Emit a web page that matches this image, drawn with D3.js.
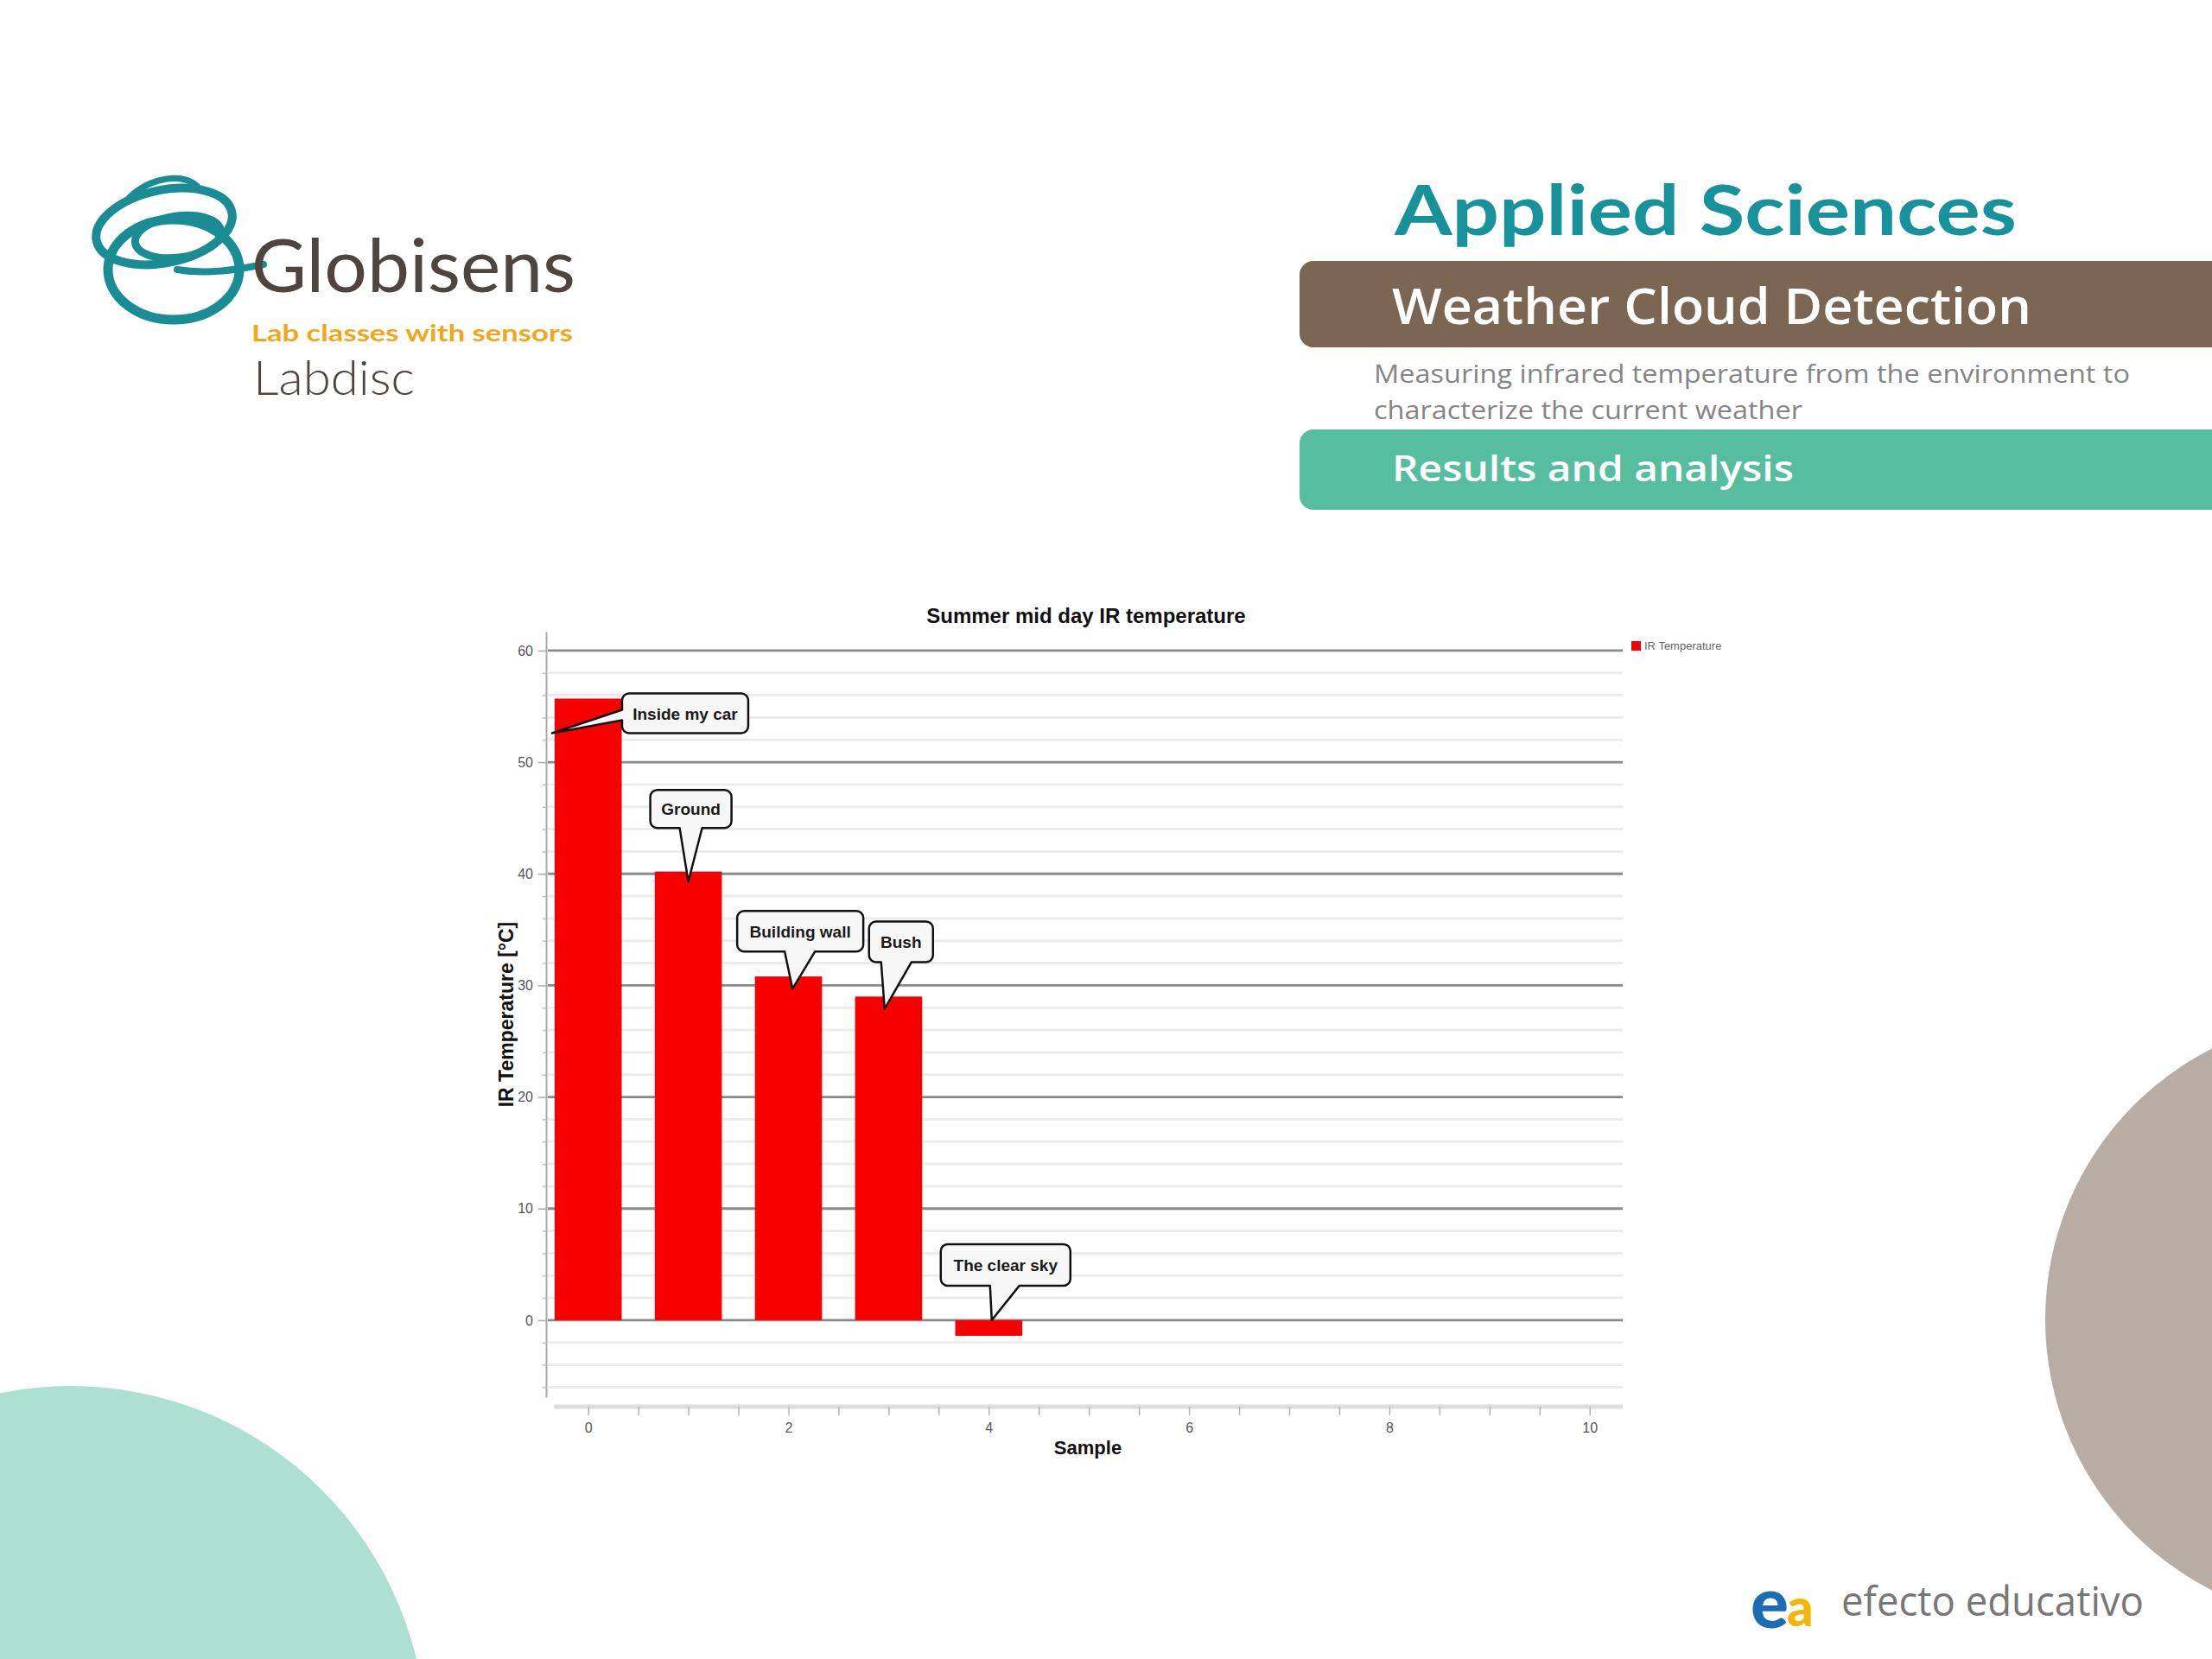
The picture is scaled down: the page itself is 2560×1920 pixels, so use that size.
<!DOCTYPE html>
<html>
<head>
<meta charset="utf-8">
<script src="https://cdn.jsdelivr.net/npm/d3@7/dist/d3.min.js"></script>
<style>
  html, body { margin: 0; padding: 0; background: #ffffff; }
  svg { display: block; }
</style>
</head>
<body>
<div id="chart"></div>
<script>
// ---------------- DATA ----------------
const categories = ["Inside my car", "Ground", "Building wall", "Bush", "The clear sky"];
const sampleIndex = [0, 1, 2, 3, 4];
const irTemperature = [55.7, 40.2, 30.8, 29.0, -1.4];
// where each callout's pointer touches (data units)
const calloutTipSample = [-0.36, 1.0, 2.04, 2.96, 4.03];
const calloutTipTemp = [52.6, 39.3, 29.7, 27.9, 0.0];
const yMajorTicks = [0, 10, 20, 30, 40, 50, 60];
const yMinorTicks = [-6, -4, -2, 2, 4, 6, 8, 12, 14, 16, 18, 22, 24, 26, 28, 32, 34, 36, 38, 42, 44, 46, 48, 52, 54, 56, 58];
const xTickLabels = [0, 2, 4, 6, 8, 10];
const xMinorTicks = [0, 0.5, 1, 1.5, 2, 2.5, 3, 3.5, 4, 4.5, 5, 5.5, 6, 6.5, 7, 7.5, 8, 8.5, 9, 9.5, 10];
const chartTitle = "Summer mid day IR temperature";
const yTitle = "IR Temperature [°C]";
const xTitle = "Sample";
const seriesName = "IR Temperature";

// ---------------- LAYOUT ----------------
const W = 2560, H = 1920;
const svg = d3.select("#chart").append("svg").attr("width", W).attr("height", H);

// background decorations
svg.append("circle").attr("cx", 82).attr("cy", 2015).attr("r", 411).attr("fill", "#aee0d1");
svg.append("circle").attr("cx", 2718).attr("cy", 1527).attr("r", 351).attr("fill", "#b8ada5");

// ---- Globisens logo ----
const logo = svg.append("g").attr("fill", "none").attr("stroke", "#1a8c94").attr("stroke-linecap", "round");
logo.append("ellipse").attr("cx", 201).attr("cy", 312).attr("rx", 76).attr("ry", 58).attr("stroke-width", 11);
logo.append("ellipse").attr("cx", 190).attr("cy", 262).attr("rx", 80).attr("ry", 42)
  .attr("transform", "rotate(-12 190 262)").attr("stroke-width", 10);
logo.append("ellipse").attr("cx", 206).attr("cy", 274).attr("rx", 50).attr("ry", 24)
  .attr("transform", "rotate(-8 206 274)").attr("stroke-width", 9);
logo.append("path").attr("d", "M150,228 C175,205 210,200 228,215").attr("stroke-width", 7);
logo.append("path").attr("d", "M205,312 C240,318 275,312 305,306").attr("stroke-width", 8);

svg.append("text").attr("x", 291).attr("y", 338).text("Globisens")
  .attr("font-family", "Lato, 'Open Sans', sans-serif").attr("font-size", 86)
  .attr("fill", "#4e4540").attr("textLength", 375).attr("lengthAdjust", "spacingAndGlyphs");
svg.append("text").attr("x", 291).attr("y", 395).text("Lab classes with sensors")
  .attr("font-family", "Lato, 'Open Sans', sans-serif").attr("font-size", 27).attr("font-weight", 700)
  .attr("fill", "#f0a81a").attr("textLength", 372).attr("lengthAdjust", "spacingAndGlyphs");
svg.append("text").attr("x", 293).attr("y", 457).text("Labdisc")
  .attr("font-family", "Lato, 'Open Sans', sans-serif").attr("font-size", 56).attr("font-weight", 300)
  .attr("fill", "#4e4540").attr("textLength", 187).attr("lengthAdjust", "spacingAndGlyphs");

// ---- header right ----
svg.append("text").attr("x", 1614).attr("y", 272).text("Applied Sciences")
  .attr("font-family", "Lato, 'Open Sans', sans-serif").attr("font-size", 80).attr("font-weight", 700)
  .attr("fill", "#17919a").attr("textLength", 720).attr("lengthAdjust", "spacingAndGlyphs");
svg.append("rect").attr("x", 1504).attr("y", 302).attr("width", 1100).attr("height", 100).attr("rx", 16)
  .attr("fill", "#7a6652");
svg.append("text").attr("x", 1611).attr("y", 375).text("Weather Cloud Detection")
  .attr("font-family", "'Open Sans', Lato, sans-serif").attr("font-size", 58).attr("font-weight", 600)
  .attr("fill", "#ffffff").attr("textLength", 740).attr("lengthAdjust", "spacingAndGlyphs");
svg.append("text").attr("x", 1590).attr("y", 443).text("Measuring infrared temperature from the environment to")
  .attr("font-family", "'Open Sans', Lato, sans-serif").attr("font-size", 30)
  .attr("fill", "#858585").attr("textLength", 875).attr("lengthAdjust", "spacingAndGlyphs");
svg.append("text").attr("x", 1590).attr("y", 485).text("characterize the current weather")
  .attr("font-family", "'Open Sans', Lato, sans-serif").attr("font-size", 30)
  .attr("fill", "#858585").attr("textLength", 496).attr("lengthAdjust", "spacingAndGlyphs");
svg.append("rect").attr("x", 1504).attr("y", 497).attr("width", 1100).attr("height", 93).attr("rx", 16)
  .attr("fill", "#56bd9f");
svg.append("text").attr("x", 1611).attr("y", 557).text("Results and analysis")
  .attr("font-family", "'Open Sans', Lato, sans-serif").attr("font-size", 42).attr("font-weight", 600)
  .attr("fill", "#ffffff").attr("textLength", 465).attr("lengthAdjust", "spacingAndGlyphs");

// ---- efecto educativo logo ----
svg.append("text").attr("x", 2026).attr("y", 1884).text("e")
  .attr("font-family", "Lato, sans-serif").attr("font-size", 82).attr("font-weight", 900).attr("fill", "#1a6db3");
svg.append("text").attr("x", 2068).attr("y", 1882).text("a")
  .attr("font-family", "Lato, sans-serif").attr("font-size", 60).attr("font-weight", 900).attr("fill", "#f2b705");
svg.append("text").attr("x", 2131).attr("y", 1870).text("efecto educativo")
  .attr("font-family", "'Open Sans', Lato, sans-serif").attr("font-size", 48)
  .attr("fill", "#777777").attr("textLength", 350).attr("lengthAdjust", "spacingAndGlyphs");

// ---------------- CHART ----------------
const plot = { left: 632, right: 1878, top: 731, bottom: 1617 };
const x = d3.scaleLinear().domain([-0.42, 10.33]).range([plot.left, plot.right]);
const y = d3.scaleLinear().domain([-6.9, 61.7]).range([plot.bottom, plot.top]);
const chart = svg.append("g");
const labelFont = "'Liberation Sans', Arial, sans-serif";

// minor gridlines
chart.append("g").selectAll("line").data(yMinorTicks).join("line")
  .attr("x1", plot.left + 2).attr("x2", plot.right)
  .attr("y1", d => y(d)).attr("y2", d => y(d))
  .attr("stroke", "#ececec").attr("stroke-width", 3);
// major gridlines
chart.append("g").selectAll("line").data(yMajorTicks).join("line")
  .attr("x1", plot.left + 2).attr("x2", plot.right)
  .attr("y1", d => y(d)).attr("y2", d => y(d))
  .attr("stroke", "#8a8a8a").attr("stroke-width", 2.8);

// y axis
const yAxis = chart.append("g").attr("transform", `translate(${plot.left},0)`)
  .call(d3.axisLeft(y).tickValues(yMajorTicks).tickSize(9).tickSizeOuter(0).tickPadding(6));
yAxis.select(".domain").attr("stroke", "#aaaaaa").attr("stroke-width", 2);
yAxis.selectAll(".tick line").attr("stroke", "#aaaaaa").attr("stroke-width", 1.5);
yAxis.selectAll(".tick text").attr("font-family", "'Liberation Sans Narrow', 'Liberation Sans', sans-serif")
  .attr("font-size", 16).attr("fill", "#555555");
const yMinor = chart.append("g").attr("transform", `translate(${plot.left},0)`)
  .call(d3.axisLeft(y).tickValues(yMinorTicks).tickSize(4).tickFormat(""));
yMinor.select(".domain").remove();
yMinor.selectAll(".tick line").attr("stroke", "#bbbbbb").attr("stroke-width", 1.5);

// x axis
const xAxisY = 1628;
const xAxis = chart.append("g").attr("transform", `translate(0,${xAxisY})`)
  .call(d3.axisBottom(x).tickValues(xMinorTicks).tickSize(10).tickSizeOuter(0).tickPadding(9)
    .tickFormat(d => xTickLabels.includes(d) ? d : ""));
xAxis.select(".domain").attr("d", `M${x(-0.34)},0H${plot.right}`).attr("stroke", "#dddddd").attr("stroke-width", 5);
xAxis.selectAll(".tick line").attr("stroke", "#b5b5b5").attr("stroke-width", 1.5);
xAxis.selectAll(".tick text").attr("font-family", "'Liberation Sans Narrow', 'Liberation Sans', sans-serif")
  .attr("font-size", 16).attr("fill", "#555555");

// bars
const barW = 0.67;
chart.append("g").selectAll("rect").data(sampleIndex).join("rect")
  .attr("x", (d) => x(d - barW / 2))
  .attr("width", x(barW) - x(0))
  .attr("y", (d, i) => y(Math.max(0, irTemperature[i])))
  .attr("height", (d, i) => Math.abs(y(irTemperature[i]) - y(0)))
  .attr("fill", "#f70000");

// titles
chart.append("text").attr("x", (plot.left + plot.right) / 2 + 2).attr("y", 721).text(chartTitle)
  .attr("text-anchor", "middle").attr("font-family", labelFont).attr("font-weight", 700)
  .attr("font-size", 24).attr("fill", "#111111");
chart.append("text").attr("transform", `translate(594,${(plot.top + plot.bottom) / 2}) rotate(-90)`)
  .text(yTitle).attr("text-anchor", "middle").attr("font-family", labelFont).attr("font-weight", 700)
  .attr("font-size", 23).attr("fill", "#111111");
chart.append("text").attr("x", 1259).attr("y", 1683).text(xTitle)
  .attr("text-anchor", "middle").attr("font-family", labelFont).attr("font-weight", 700)
  .attr("font-size", 22).attr("fill", "#111111");

// legend
chart.append("rect").attr("x", 1888).attr("y", 742).attr("width", 11).attr("height", 11).attr("fill", "#f70000");
chart.append("text").attr("x", 1903).attr("y", 752).text(seriesName)
  .attr("font-family", labelFont).attr("font-size", 13).attr("fill", "#666666");

// callouts (box offset from tip, size, pointer side and base range)
const calloutLayout = [
  { dx: 81, dy: -46, w: 146, h: 46, side: "left", b1: 19, b2: 31 },
  { dx: -44, dy: -106, w: 94, h: 44, side: "bottom", b1: 34, b2: 60 },
  { dx: -64, dy: -90, w: 146, h: 47, side: "bottom", b1: 55, b2: 90 },
  { dx: -18, dy: -101, w: 74, h: 47, side: "bottom", b1: 14, b2: 49 },
  { dx: -59, dy: -88, w: 150, h: 48, side: "bottom", b1: 57, b2: 91 }
];
function calloutPath(bx, by, w, h, r, side, b1, b2, tx, ty) {
  const p = d3.path();
  p.moveTo(bx + r, by);
  p.lineTo(bx + w - r, by);
  p.arcTo(bx + w, by, bx + w, by + r, r);
  p.lineTo(bx + w, by + h - r);
  p.arcTo(bx + w, by + h, bx + w - r, by + h, r);
  if (side === "bottom") {
    p.lineTo(bx + b2, by + h);
    p.lineTo(tx, ty);
    p.lineTo(bx + b1, by + h);
  }
  p.lineTo(bx + r, by + h);
  p.arcTo(bx, by + h, bx, by + h - r, r);
  if (side === "left") {
    p.lineTo(bx, by + b2);
    p.lineTo(tx, ty);
    p.lineTo(bx, by + b1);
  }
  p.lineTo(bx, by + r);
  p.arcTo(bx, by, bx + r, by, r);
  p.closePath();
  return p.toString();
}
const callouts = chart.append("g");
categories.forEach((label, i) => {
  const tx = x(calloutTipSample[i]), ty = y(calloutTipTemp[i]);
  const L = calloutLayout[i];
  const bx = tx + L.dx, by = ty + L.dy;
  callouts.append("path")
    .attr("d", calloutPath(bx, by, L.w, L.h, 8, L.side, L.b1, L.b2, tx, ty))
    .attr("fill", "#f7f7f7").attr("stroke", "#111111").attr("stroke-width", 2.5)
    .attr("stroke-linejoin", "round");
  callouts.append("text").attr("x", bx + L.w / 2).attr("y", by + L.h / 2 + 7).text(label)
    .attr("text-anchor", "middle").attr("font-family", labelFont).attr("font-weight", 700)
    .attr("font-size", 19).attr("fill", "#1a1a1a");
});
</script>
</body>
</html>
